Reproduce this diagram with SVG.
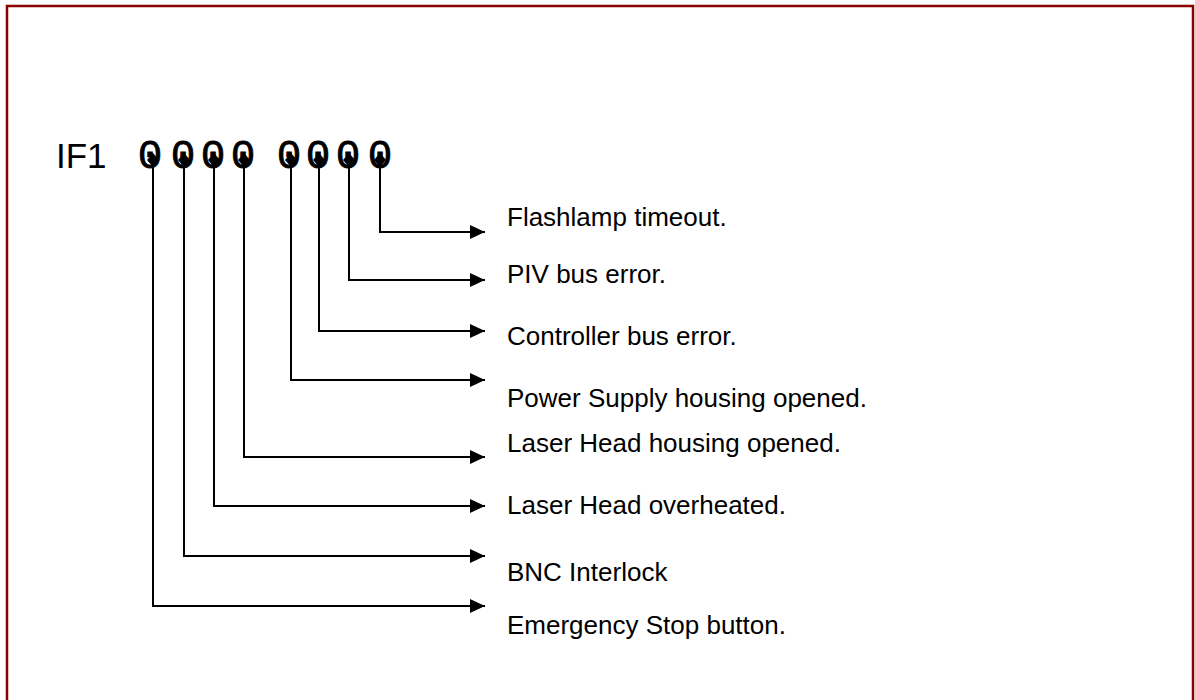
<svg xmlns="http://www.w3.org/2000/svg" width="1195" height="700" viewBox="0 0 1195 700">
<style>
.lbl{font-family:"Liberation Sans",Arial,sans-serif;font-size:26px;fill:#000}
.bit{font-family:"Liberation Mono","Courier New",monospace;font-size:41px;fill:#000;stroke:#000;stroke-width:0.8;text-anchor:middle}
.con{fill:none;stroke:#000;stroke-width:2;marker-start:url(#dot);marker-end:url(#arr)}
</style>
<defs>
<marker id="arr" markerUnits="userSpaceOnUse" markerWidth="16" markerHeight="14" refX="15" refY="7" orient="auto" viewBox="0 0 16 14">
<path d="M0,0 L15,7 L0,14 z" fill="#000"/>
</marker>
<marker id="dot" markerUnits="userSpaceOnUse" markerWidth="14" markerHeight="12" refX="7" refY="6" orient="auto" viewBox="0 0 14 12">
<path d="M0,6 L7,0 L14,6 L7,12 z" fill="#000"/>
</marker>
</defs>
<rect x="7" y="6" width="1186" height="700" fill="#fff" stroke="#8B0000" stroke-width="2.5"/>
<g id="header">
<text class="lbl" x="56" y="168" style="font-size:35px">IF1</text>
<text class="bit" x="150" y="168">0</text>
<text class="bit" x="183" y="168">0</text>
<text class="bit" x="213" y="168">0</text>
<text class="bit" x="243" y="168">0</text>
<text class="bit" x="289" y="168">0</text>
<text class="bit" x="318" y="168">0</text>
<text class="bit" x="348" y="168">0</text>
<text class="bit" x="380" y="168">0</text>
</g>
<g id="connectors">
<path class="con" d="M380,160 V232 H485"/>
<path class="con" d="M349,160 V280 H485"/>
<path class="con" d="M319,160 V331 H485"/>
<path class="con" d="M291,160 V380 H485"/>
<path class="con" d="M244,160 V457 H485"/>
<path class="con" d="M214,160 V506 H485"/>
<path class="con" d="M184,160 V556 H485"/>
<path class="con" d="M153,160 V606 H485"/>
</g>
<g id="n-flashlamp"><text class="lbl" x="507" y="226">Flashlamp timeout.</text></g>
<g id="n-piv"><text class="lbl" x="507" y="283">PIV bus error.</text></g>
<g id="n-controller"><text class="lbl" x="507" y="345">Controller bus error.</text></g>
<g id="n-powersupply"><text class="lbl" x="507" y="407">Power Supply housing opened.</text></g>
<g id="n-laserhousing"><text class="lbl" x="507" y="452">Laser Head housing opened.</text></g>
<g id="n-overheated"><text class="lbl" x="507" y="514">Laser Head overheated.</text></g>
<g id="n-bnc"><text class="lbl" x="507" y="581">BNC Interlock</text></g>
<g id="n-estop"><text class="lbl" x="507" y="634">Emergency Stop button.</text></g>
</svg>
